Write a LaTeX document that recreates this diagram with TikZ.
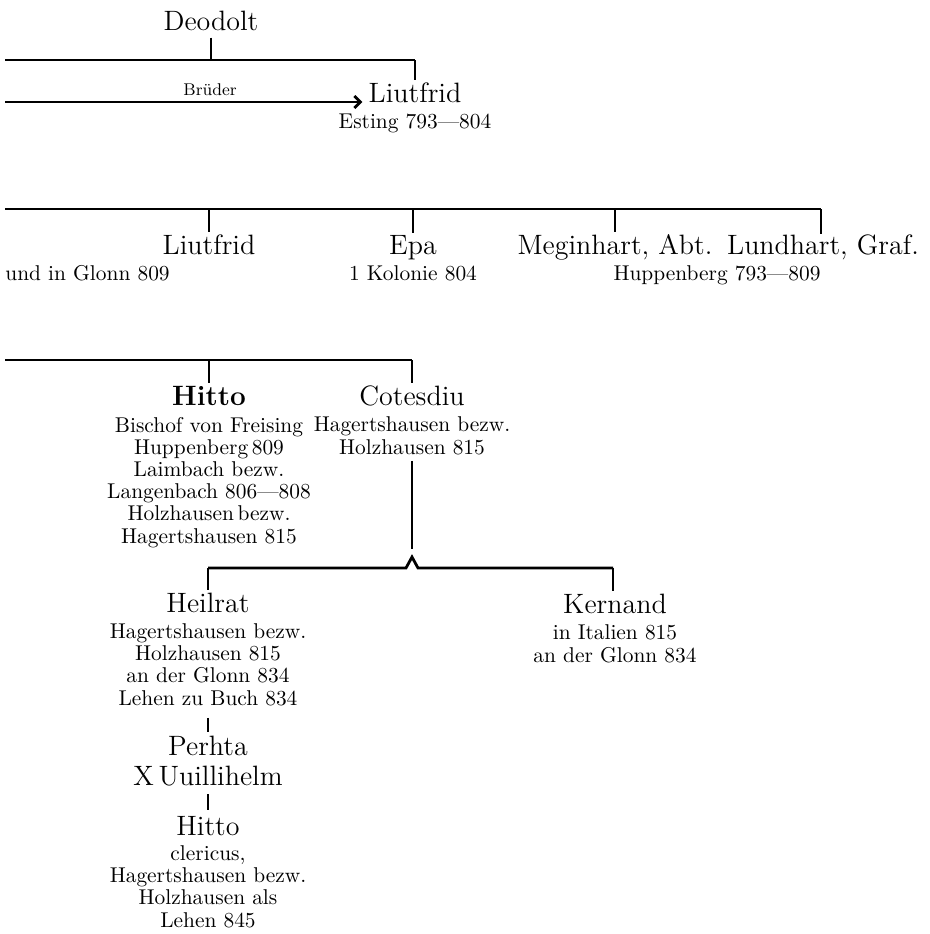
\documentclass[tikz,border=0pt]{standalone}
\usetikzlibrary{arrows.meta}
\begin{document}
\begin{tikzpicture}[x=0.5pt,y=-0.5pt,
person/.style={%
  font={\fontsize{14pt}{15pt}\selectfont},
  inner sep=0pt,
  anchor=base,
  align=center,
},
info/.style={%
  font={\fontsize{10.7pt}{11.1pt}\selectfont},
  inner sep=0pt,
  anchor=base,
  align=center,
},
small/.style={%
  font={\fontsize{8.5pt}{9pt}\selectfont},
  inner sep=0pt,
  anchor=base,
},
bar/.style={%
  line width=1.4pt,
},
tick/.style={%
  line width=1.2pt,
}
]
\useasboundingbox (0,0) rectangle (930,934);
% mehrzeilige Knoten: base = Grundlinie der letzten Zeile

%Deodolt
\node[person] (deodolt) at (211,30) {Deodolt};
\coordinate (l1w) at (5,60);
\coordinate (l1e) at (415,60);
\draw[bar] (l1w) -- (l1e);
\draw[tick] ([yshift=-3.5pt]deodolt.south) -- (deodolt.south |- l1w);

%Liutfrid, Esting
\node[person] (liutfridA) at (415,102) {Liutfrid};
\node[info] (esting) at (415,128) {Esting 793---804};
\draw[tick] (l1e) -- ([yshift=1pt]liutfridA.north);
\node[small] (brueder) at (210,95) {Brüder};
\coordinate (bw) at (5,102);
\draw[bar,-{Straight Barb[length=3pt,width=6pt]}] (bw) -- ([xshift=-3pt]liutfridA.west |- bw);

%zweite Reihe
\coordinate (l2w) at (5,209);
\coordinate (l2e) at (821,209);
\draw[bar] (l2w) -- (l2e);
\node[person] (liutfridB) at (209,254) {Liutfrid};
\node[person] (epa) at (413,254) {Epa};
\node[person] (meginhart) at (615,254) {Meginhart, Abt.};
\node[person] (lundhart) at (823,254) {Lundhart, Graf.};
\node[info,anchor=base west] (glonn) at (5,280) {und in Glonn 809};
\node[info] (kolonie) at (413,280) {1 Kolonie 804};
\node[info] (huppenberg) at (717,280) {Huppenberg 793---809};
\foreach \n in {liutfridB,epa,meginhart}
  \draw[tick] (\n.north |- l2w) -- ([yshift=1pt]\n.north);
\draw[tick] (l2e) -- (l2e |- lundhart.north);

%Hitto, Cotesdiu
\coordinate (l3w) at (5,360);
\coordinate (l3e) at (412,360);
\draw[bar] (l3w) -- (l3e);
\node[person,font={\fontsize{14pt}{15pt}\selectfont\bfseries}] (hitto) at (209,405) {Hitto};
\node[info] (hittoinfo) at (209,543) {Bischof von Freising\\Huppenberg\,809\\Laimbach bezw.\\Langenbach 806---808\\Holzhausen\,bezw.\\Hagertshausen 815};
\node[person] (cotesdiu) at (412,405) {Cotesdiu};
\node[info] (cotinfo) at (412,454) {Hagertshausen bezw.\\Holzhausen 815};
\draw[tick] (hitto.north |- l3w) -- ([yshift=1pt]hitto.north);
\draw[tick] (l3e) -- ([yshift=1pt]l3e |- cotesdiu.north);

%Kinder des Cotesdiu
\coordinate (caret) at (412,557);
\coordinate (l4w) at (208,568);
\coordinate (l4e) at (613,568);
\draw[tick] ([yshift=-3pt]cotinfo.south) -- ([yshift=4pt]caret);
\draw[bar] (l4w) -- ([xshift=-3pt]caret |- l4w) -- (caret) -- ([xshift=3pt]caret |- l4w) -- (l4e);
\node[person] (heilrat) at (208,612) {Heilrat};
\node[info] (heilinfo) at (208,705) {Hagertshausen bezw.\\Holzhausen 815\\an der Glonn 834\\Lehen zu Buch 834};
\node[person] (kernand) at (615,613) {Kernand};
\node[info] (kerninfo) at (615,662) {in Italien 815\\an der Glonn 834};
\draw[tick] (l4w) -- ([yshift=1pt]l4w |- heilrat.north);
\draw[tick] (l4e) -- ([yshift=1pt]l4e |- kernand.north);

%Perhta, Hitto
\node[person] (perhta) at (208,785) {Perhta\\X\,Uuillihelm};
\draw[tick] ([yshift=-6pt]heilinfo.south) -- ([yshift=1.5pt]perhta.north);
\node[person] (hittoB) at (208,835) {Hitto};
\node[info] (hittoBinfo) at (208,927) {clericus,\\Hagertshausen bezw.\\Holzhausen als\\Lehen 845};
\draw[tick] ([yshift=-4pt]perhta.south) -- ([yshift=2.5pt]hittoB.north);
\end{tikzpicture}
\end{document}
